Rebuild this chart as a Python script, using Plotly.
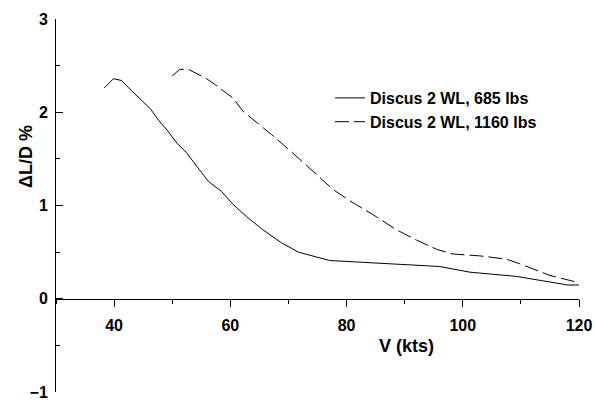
import plotly.graph_objects as go

# Discus 2 WL, 685 lbs (solid)
v_685 = [38.3, 39.9, 41.3, 43.0, 46.2, 47.7, 49.1, 50.8, 52.4, 56.2, 58.5, 60.5,
         62.8, 65.6, 68.8, 71.7, 77.1, 86.9, 96.0, 101.2, 109.2, 118.1, 120.0]
dld_685 = [2.26, 2.36, 2.34, 2.23, 2.04, 1.91, 1.81, 1.67, 1.57, 1.26, 1.15, 1.01,
           0.88, 0.74, 0.60, 0.50, 0.41, 0.375, 0.346, 0.285, 0.24, 0.147, 0.147]

# Discus 2 WL, 1160 lbs (dashed)
v_1160 = [50.0, 51.3, 52.8, 55.9, 57.3, 60.5, 62.2, 67.1, 70.8, 74.0, 77.7, 81.1,
          84.6, 88.6, 92.0, 95.5, 98.3, 102.9, 107.5, 109.8, 115.0, 119.8]
dld_1160 = [2.39, 2.46, 2.46, 2.36, 2.30, 2.15, 2.01, 1.76, 1.56, 1.38, 1.17, 1.03,
            0.90, 0.74, 0.63, 0.53, 0.48, 0.46, 0.425, 0.375, 0.25, 0.175]

x_ticks = [40, 60, 80, 100, 120]
y_ticks = [-1, 0, 1, 2, 3]

FONT = "Liberation Sans, Arial, sans-serif"
W, H = 595, 400
L, R, T, B = 56, 16, 19, 8
PW, PH = W - L - R, H - T - B

fig = go.Figure()
fig.add_trace(go.Scatter(x=v_685, y=dld_685, mode="lines", name="Discus 2 WL, 685 lbs",
                         line=dict(color="black", width=1)))
fig.add_trace(go.Scatter(x=v_1160, y=dld_1160, mode="lines", name="Discus 2 WL, 1160 lbs",
                         line=dict(color="black", width=1, dash="14px,5px")))

fig.update_layout(
    width=W, height=H,
    margin=dict(l=L, r=R, t=T, b=B, autoexpand=False),
    paper_bgcolor="white", plot_bgcolor="white",
    font=dict(family=FONT, size=16, color="black", weight="bold"),
    showlegend=True,
    legend=dict(x=(330 - L) / PW, y=(H - B - 81) / PH, xanchor="left", yanchor="top",
                bgcolor="rgba(0,0,0,0)", font=dict(size=16, weight="bold")),
    xaxis=dict(range=[30, 120], anchor="free", position=0.25, automargin=False,
               showline=True, linecolor="black", linewidth=1,
               showgrid=False, zeroline=False,
               tickvals=x_ticks, ticks="outside", ticklen=7, tickcolor="black",
               ticklabelstandoff=5, ticklabeloverflow="allow",
               minor=dict(dtick=10, tick0=30, ticks="outside", ticklen=4, tickcolor="black"),
               tickfont=dict(size=16, weight="bold")),
    yaxis=dict(range=[-1, 3], automargin=False, showline=True, linecolor="black", linewidth=1,
               showgrid=False, zeroline=False,
               tickvals=y_ticks, ticks="inside", ticklen=7, tickcolor="black",
               ticklabelstandoff=4, ticklabeloverflow="allow",
               minor=dict(dtick=0.5, tick0=0, ticks="inside", ticklen=4, tickcolor="black"),
               tickfont=dict(size=16, weight="bold")),
    annotations=[
        dict(text="V (kts)", xref="paper", yref="paper", x=(406 - L) / PW, y=(H - B - 346) / PH,
             showarrow=False, font=dict(size=18, weight="bold"), xanchor="center", yanchor="middle"),
        dict(text="ΔL/D %", xref="paper", yref="paper", x=(26 - L) / PW, y=(H - B - 157) / PH,
             showarrow=False, textangle=-90, font=dict(size=18, weight="bold"),
             xanchor="center", yanchor="middle"),
    ],
)

page_fix = ("document.documentElement.style.margin='0';"
            "document.documentElement.style.overflow='hidden';"
            "document.body.style.margin='0';"
            "document.body.style.overflow='hidden';"
            "document.body.style.width='595px';"
            "document.body.style.height='400px';")

fig.write_html("out.html", post_script=page_fix, config={"displayModeBar": False})
